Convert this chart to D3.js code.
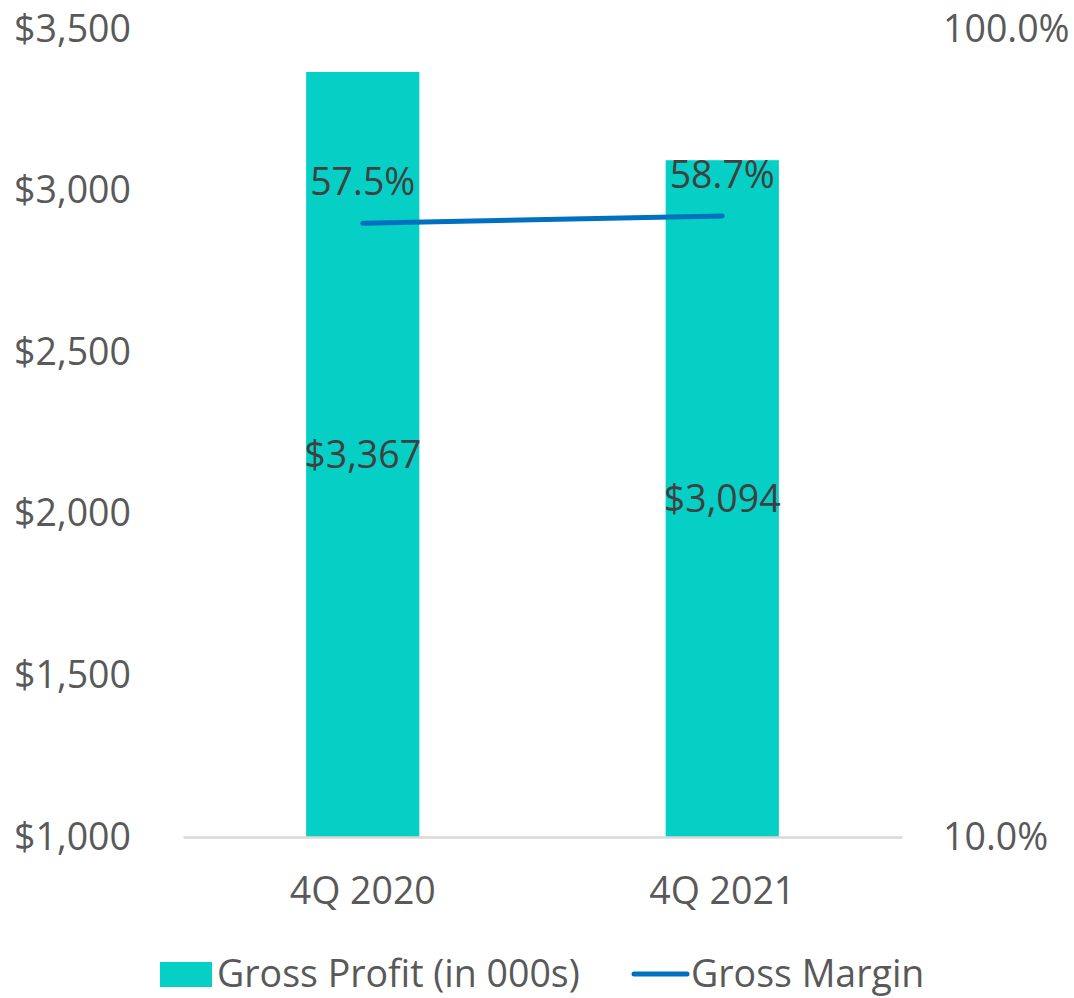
<!DOCTYPE html>
<html>
<head>
<meta charset="utf-8">
<script src="https://cdn.jsdelivr.net/npm/d3@7"></script>
<style>
  html, body { margin: 0; padding: 0; background: #ffffff; }
  svg text { font-family: "Open Sans", "DejaVu Sans", sans-serif; }
</style>
</head>
<body>
<svg id="chart" width="1074" height="998"></svg>
<script>
// Quarterly gross profit (bars, left axis) and gross margin (line, right log axis)
const categories = ["4Q 2020", "4Q 2021"];
const grossProfit = [3367, 3094];          // in $000s
const grossMargin = [57.5, 58.7];          // percent
const profitTicks = [1000, 1500, 2000, 2500, 3000, 3500];
const marginTicks = [10, 100];
const legendLabels = ["Gross Profit (in 000s)", "Gross Margin"];

const barColor = "#06d0c5";
const lineColor = "#0070c0";
const tickColor = "#595959";
const labelColor = "#404040";
const fontSize = 37.5;

const svg = d3.select("#chart");
const plot = { left: 183, right: 902, top: 29, bottom: 837 };

const x = d3.scaleBand().domain(categories).range([plot.left, plot.right]).padding(0);
const yLeft = d3.scaleLinear().domain([1000, 3500]).range([plot.bottom, plot.top]);
const yRight = d3.scaleLog().domain([10, 100]).range([plot.bottom, plot.top]);
const barWidth = x.bandwidth() * 0.315;
const cx = c => x(c) + x.bandwidth() / 2;

// Bars
svg.append("g").selectAll("rect")
  .data(categories)
  .join("rect")
  .attr("x", (c) => cx(c) - barWidth / 2)
  .attr("width", barWidth)
  .attr("y", (c, i) => yLeft(grossProfit[i]))
  .attr("height", (c, i) => yLeft(1000) - yLeft(grossProfit[i]))
  .attr("fill", barColor);

// Baseline / category axis
const xAxis = svg.append("g")
  .attr("transform", `translate(0,${plot.bottom})`)
  .call(d3.axisBottom(x).tickSize(0).tickPadding(40));
xAxis.select(".domain").attr("stroke", "#d9d9d9").attr("stroke-width", 2.5);
xAxis.selectAll("text")
  .attr("fill", tickColor).attr("font-size", fontSize)
  .style("font-family", '"Open Sans", sans-serif');

// Left axis
const leftAxis = svg.append("g")
  .attr("transform", "translate(131,0)")
  .call(d3.axisLeft(yLeft).tickValues(profitTicks).tickSize(0).tickPadding(0)
    .tickFormat(d => "$" + d3.format(",")(d)));
leftAxis.select(".domain").remove();
leftAxis.selectAll("text")
  .attr("fill", tickColor).attr("font-size", fontSize)
  .style("font-family", '"Open Sans", sans-serif');

// Right axis (log scale)
const rightAxis = svg.append("g")
  .attr("transform", "translate(943,0)")
  .call(d3.axisRight(yRight).tickValues(marginTicks).tickSize(0).tickPadding(0)
    .tickFormat(d => d3.format(".1f")(d) + "%"));
rightAxis.select(".domain").remove();
rightAxis.selectAll("text")
  .attr("fill", tickColor).attr("font-size", fontSize)
  .style("font-family", '"Open Sans", sans-serif');

// Margin line
const line = d3.line()
  .x((d, i) => cx(categories[i]))
  .y(d => yRight(d));
svg.append("path")
  .datum(grossMargin)
  .attr("d", line)
  .attr("fill", "none")
  .attr("stroke", lineColor)
  .attr("stroke-width", 5)
  .attr("stroke-linecap", "round");

// Bar value labels, centred in each bar
svg.append("g").selectAll("text")
  .data(categories)
  .join("text")
  .attr("x", c => cx(c))
  .attr("y", (c, i) => (yLeft(grossProfit[i]) + yLeft(1000)) / 2)
  .attr("dy", "0.35em")
  .attr("text-anchor", "middle")
  .attr("font-size", fontSize)
  .attr("fill", labelColor)
  .text((c, i) => "$" + d3.format(",")(grossProfit[i]));

// Margin value labels above each point
svg.append("g").selectAll("text")
  .data(categories)
  .join("text")
  .attr("x", c => cx(c))
  .attr("y", (c, i) => yRight(grossMargin[i]) - 41)
  .attr("dy", "0.35em")
  .attr("text-anchor", "middle")
  .attr("font-size", fontSize)
  .attr("fill", labelColor)
  .text((c, i) => d3.format(".1f")(grossMargin[i]) + "%");

// Legend
const legend = svg.append("g");
legend.append("rect")
  .attr("x", 160).attr("y", 962).attr("width", 52).attr("height", 25)
  .attr("fill", barColor);
legend.append("text")
  .attr("x", 217).attr("y", 974).attr("dy", "0.35em")
  .attr("font-size", fontSize).attr("fill", tickColor)
  .text(legendLabels[0]);
legend.append("line")
  .attr("x1", 634).attr("x2", 687).attr("y1", 974).attr("y2", 974)
  .attr("stroke", lineColor).attr("stroke-width", 5).attr("stroke-linecap", "round");
legend.append("text")
  .attr("x", 691).attr("y", 974).attr("dy", "0.35em")
  .attr("font-size", fontSize).attr("fill", tickColor)
  .text(legendLabels[1]);
</script>
</body>
</html>
